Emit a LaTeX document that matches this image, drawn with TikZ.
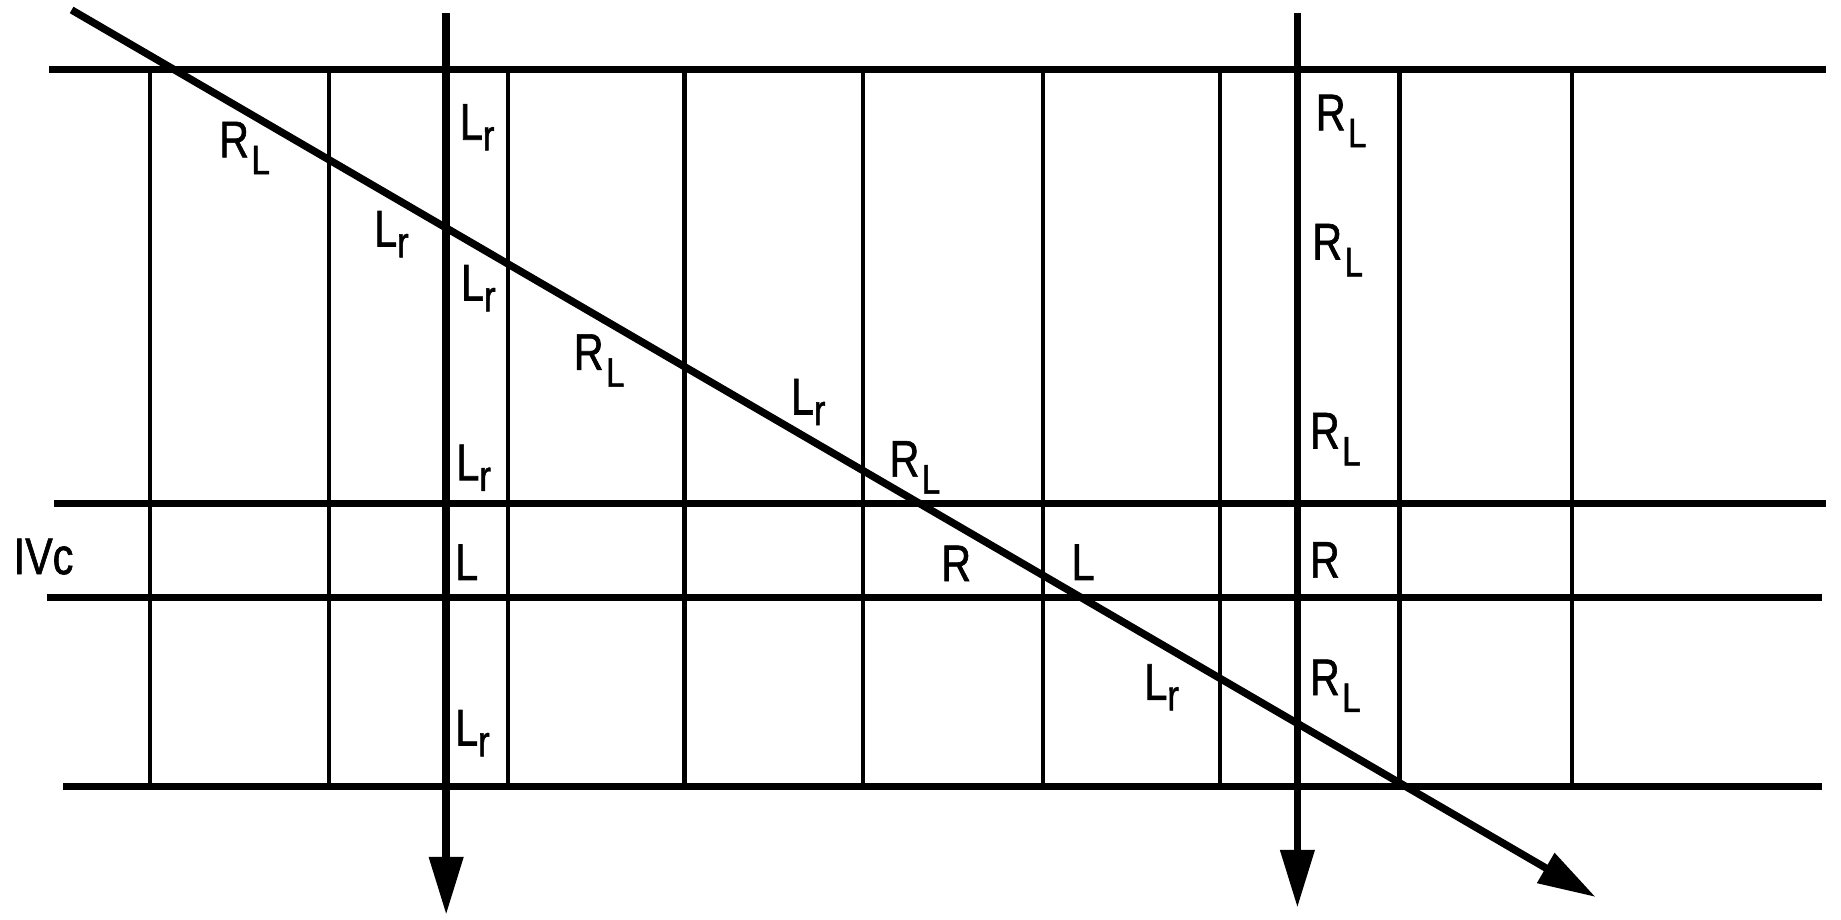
\documentclass[tikz,border=0pt]{standalone}
\usepackage{fontspec}
\setmainfont{Liberation Sans}[FakeStretch=0.8,FakeBold=1.2]
\usetikzlibrary{arrows.meta}

\newcommand{\labRL}{R\kern0.6pt\raisebox{-4.1pt}{\fontsize{10}{10}\selectfont L}}
\newcommand{\labLr}{L\raisebox{-2.6pt}{\fontsize{10.5}{10}\selectfont r}}

\begin{document}
\begin{tikzpicture}[
    band/.style={line width=1.6pt},
    wall/.style={line width=1pt},
    ray/.style={-{Triangle[length=14pt,width=8pt]},line width=1.8pt},
    lab/.style={anchor=base west,inner sep=0pt,font=\fontsize{12.5}{13}\selectfont}
]
  \useasboundingbox (0,0) rectangle (15.68,7.83);

  % layer boundaries
  \draw[band] (0.42,7.24) -- (15.55,7.24);
  \draw[band] (0.46,3.54) -- (15.55,3.54);
  \draw[band] (0.40,2.74) -- (15.52,2.74);
  \draw[band] (0.54,1.13) -- (15.52,1.13);

  % cell walls
  \draw[wall] (1.28,7.24) -- (1.28,1.13);
  \draw[wall] (2.80,7.24) -- (2.80,1.13);
  \draw[wall] (4.33,7.24) -- (4.33,1.13);
  \draw[wall] (5.83,7.24) -- (5.83,1.13);
  \draw[wall] (7.35,7.24) -- (7.35,1.13);
  \draw[wall] (8.88,7.24) -- (8.88,1.13);
  \draw[wall] (10.39,7.24) -- (10.39,1.13);
  \draw[wall] (11.92,7.24) -- (11.92,1.13);
  \draw[wall] (13.39,7.24) -- (13.39,1.13);

  % rays
  \coordinate (inA) at (3.80,7.72);
  \coordinate (outA) at (3.80,0.04);
  \coordinate (inB) at (11.05,7.72);
  \coordinate (outB) at (11.05,0.10);
  \coordinate (inC) at (0.61,7.745);
  \coordinate (outC) at (13.59,0.19);
  \draw[ray] (inA) -- (outA);
  \draw[ray] (inB) -- (outB);
  \draw[ray] (inC) -- (outC);

  % oblique ray
  \node[lab] (c1) at (1.86,6.49) {\labRL};
  \node[lab] (c2) at (3.18,5.73) {\labLr};
  \node[lab] (c3) at (4.88,4.68) {\labRL};
  \node[lab] (c4) at (6.73,4.30) {\labLr};
  \node[lab] (c5) at (7.57,3.77) {\labRL};
  \node[lab] (c6) at (8.01,2.88) {R};
  \node[lab] (c7) at (9.12,2.89) {L};
  \node[lab] (c8) at (9.74,1.87) {\labLr};

  % first vertical ray
  \node[lab] (a1) at (3.91,6.64) {\labLr};
  \node[lab] (a2) at (3.92,5.27) {\labLr};
  \node[lab] (a3) at (3.88,3.74) {\labLr};
  \node[lab] (a4) at (3.87,2.89) {L};
  \node[lab] (a5) at (3.87,1.48) {\labLr};

  % second vertical ray
  \node[lab] (b1) at (11.20,6.72) {\labRL};
  \node[lab] (b2) at (11.17,5.62) {\labRL};
  \node[lab] (b3) at (11.15,4.01) {\labRL};
  \node[lab] (b4) at (11.15,2.91) {R};
  \node[lab] (b5) at (11.15,1.91) {\labRL};

  % layer name
  \node[lab] (layer) at (0.11,2.94) {IVc};
\end{tikzpicture}
\end{document}
